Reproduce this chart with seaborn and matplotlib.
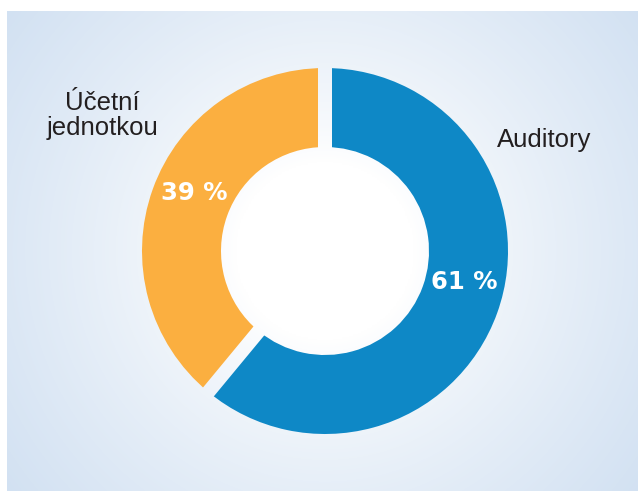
import matplotlib
matplotlib.use("Agg")
import matplotlib.pyplot as plt
import numpy as np
import seaborn as sns
from matplotlib.path import Path
from matplotlib.patches import PathPatch

# ---------------------------------------------------------------------------
# data
# ---------------------------------------------------------------------------
LABELS = ["Auditory", "Účetní\njednotkou"]
SHARES = [61, 39]
PCT_LABELS = [f"{v} %" for v in SHARES]
COLORS = ["#0e88c6", "#fbaf40"]

# geometry in pixel units (y pointing up)
W, H = 638, 491
CX, CY = 325, H - 251
R_OUT, R_IN = 183, 104
GAP = 14
TEXT_DARK = "#231f20"


def radial_gradient(extent):
    x0, x1, y0, y1 = extent
    gx, gy = np.meshgrid(np.linspace(x0, x1, 400), np.linspace(y0, y1, 320))
    r = np.hypot(gx - CX, gy - CY)
    t = np.clip((r - 90) / 310, 0, 1) ** 0.8
    edge = np.array([210, 225, 242]) / 255
    return 1 - t[..., None] * (1 - edge)


def gap_path(angles):
    verts, codes = [], []
    for a in angles:
        th = np.deg2rad(a)
        u = np.array([np.cos(th), np.sin(th)])
        n = np.array([-u[1], u[0]])
        c = np.array([CX, CY])
        r0, r1, w = R_IN - 4, R_OUT + 4, GAP / 2
        pts = [c + r0 * u - w * n, c + r1 * u - w * n,
               c + r1 * u + w * n, c + r0 * u + w * n, c + r0 * u]
        verts += [tuple(p) for p in pts]
        codes += [Path.MOVETO, Path.LINETO, Path.LINETO, Path.LINETO, Path.CLOSEPOLY]
    return Path(verts, codes)


sns.set_theme(style="white")
plt.rcParams["font.family"] = ["Liberation Sans", "DejaVu Sans"]

fig = plt.figure(figsize=(W / 100, H / 100), dpi=100, facecolor="white")
ax = fig.add_axes([0, 0, 1, 1])

panel = (7, W, 0, H - 11)
grad = radial_gradient(panel)
ax.imshow(grad, extent=panel, origin="lower", zorder=0, interpolation="bilinear")

wedges, _ = ax.pie(
    SHARES,
    colors=COLORS,
    startangle=90,
    counterclock=False,
    radius=R_OUT,
    center=(CX, CY),
    wedgeprops=dict(width=R_OUT - R_IN, linewidth=0),
)

# white gaps between slices show the background through
angles = sorted({round(a % 360, 3) for w in wedges for a in (w.theta1, w.theta2)})
clip = PathPatch(gap_path(angles), transform=ax.transData, facecolor="none", edgecolor="none")
ax.add_patch(clip)
overlay = ax.imshow(grad, extent=panel, origin="lower", zorder=2, interpolation="bilinear")
overlay.set_clip_path(clip)

ax.set_xlim(0, W)
ax.set_ylim(0, H)
ax.set_aspect("auto")
ax.axis("off")

# labels
ax.text(544, H - 147, LABELS[0], ha="center", va="baseline",
        fontsize=18.5, color=TEXT_DARK, zorder=3)
ax.text(102, H - 135, LABELS[1], ha="center", va="baseline", linespacing=1.05,
        fontsize=18.5, color=TEXT_DARK, zorder=3)

ax.text(464, H - 289, PCT_LABELS[0], ha="center", va="baseline", fontsize=17.5,
        fontweight="bold", color="white", family="DejaVu Sans", zorder=3)
ax.text(194, H - 200, PCT_LABELS[1], ha="center", va="baseline", fontsize=17.5,
        fontweight="bold", color="white", family="DejaVu Sans", zorder=3)

fig.savefig("out.png", dpi=100, facecolor="white")
